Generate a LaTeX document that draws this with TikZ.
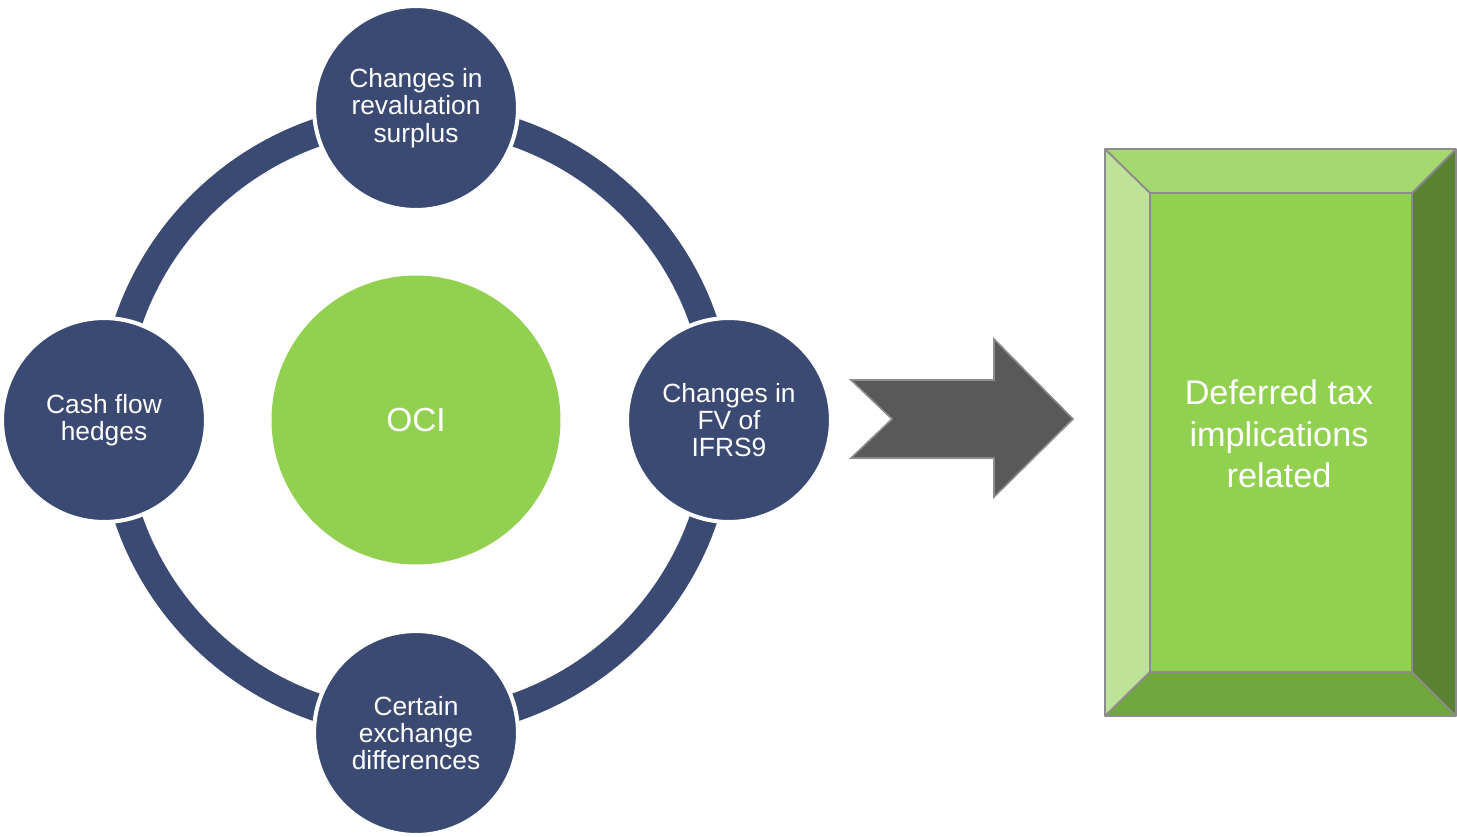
\documentclass[tikz,border=0pt]{standalone}
\usepackage{fontspec}
\setmainfont{Liberation Sans}
\usetikzlibrary{positioning, calc}
\definecolor{ocinavy}{HTML}{3B4A72}
\definecolor{ocigreen}{HTML}{92D050}
\definecolor{arrowgray}{HTML}{595959}
\definecolor{arrowedge}{HTML}{8C8C8C}
\definecolor{beveltop}{HTML}{A6D870}
\definecolor{bevelleft}{HTML}{BEE297}
\definecolor{bevelright}{HTML}{5A8233}
\definecolor{bevelbottom}{HTML}{71A73C}

\begin{document}
\begin{tikzpicture}[x=0.02cm, y=-0.02cm,
  item/.style={circle, fill=ocinavy, draw=white, line width=2.3pt, minimum size=4.08cm, inner sep=0pt, align=center, text=white, font=\fontsize{15}{15.6}\selectfont},
  hub/.style={circle, fill=ocigreen, minimum size=5.78cm, inner sep=0pt, text=white, font=\fontsize{19}{22}\selectfont},
  bevel/.style={draw=arrowedge, line width=1.1pt, line join=round},
]
\useasboundingbox (0,0) rectangle (1457,836);
% ring of OCI items
\node[hub] (oci) at (416,420) {OCI};
\draw[ocinavy, line width=0.56cm] (oci.center) circle[radius=6.08cm];
\node[item] (surplus) at (416,108) {Changes in\\revaluation\\surplus};
\node[item] (ifrs) at (729,420) {Changes in\\FV of\\IFRS9};
\node[item] (exchange) at (416,733) {Certain\\exchange\\differences};
\node[item] (hedges) at (104,420) {Cash flow\\hedges};
% block arrow
\draw[fill=arrowgray, draw=arrowedge, line width=0.9pt] (851,380) -- (994,380) -- (994,339) -- (1073,419)
  -- (994,497) -- (994,458) -- (851,458) -- (892,419) -- cycle;
% bevelled box
\coordinate (otl) at (1105,149);
\coordinate (otr) at (1456,149);
\coordinate (obr) at (1456,716);
\coordinate (obl) at (1105,716);
\coordinate (itl) at (1150,193);
\coordinate (itr) at (1412,193);
\coordinate (ibr) at (1412,672);
\coordinate (ibl) at (1150,672);
\fill[beveltop] (otl) -- (otr) -- (itr) -- (itl) -- cycle;
\fill[bevelright] (otr) -- (obr) -- (ibr) -- (itr) -- cycle;
\fill[bevelbottom] (obr) -- (obl) -- (ibl) -- (ibr) -- cycle;
\fill[bevelleft] (obl) -- (otl) -- (itl) -- (ibl) -- cycle;
\fill[ocigreen] (itl) rectangle (ibr);
\draw[bevel] (otl) rectangle (obr);
\draw[bevel] (itl) rectangle (ibr);
\draw[bevel] (otl) -- (itl) (otr) -- (itr) (obr) -- (ibr) (obl) -- (ibl);
\node[align=center, text=white, font=\fontsize{19.5}{23.5}\selectfont] (tax) at (1279,434) {Deferred tax\\implications\\related};
\end{tikzpicture}
\end{document}
